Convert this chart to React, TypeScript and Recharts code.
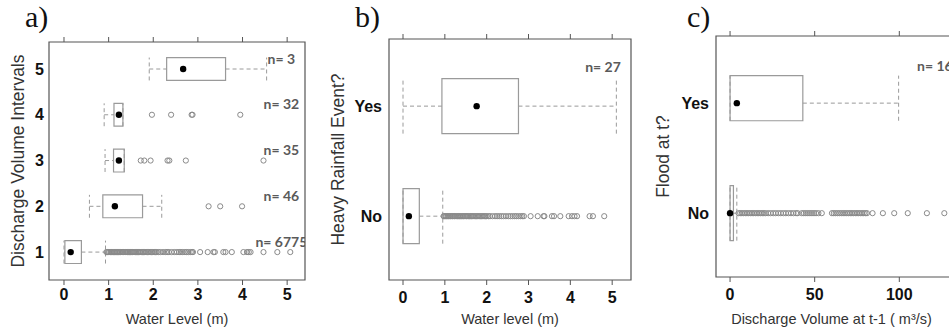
import { ScatterChart, Scatter, XAxis, YAxis, ReferenceArea, ReferenceLine } from 'recharts'

// a) water level per discharge interval
const aGroups = [1, 2, 3, 4, 5]
const aLow = [0.0, 0.57, 0.92, 0.9, 1.91]
const aQ1 = [0.02, 0.87, 1.11, 1.12, 2.3]
const aMedian = [0.15, 1.14, 1.23, 1.23, 2.67]
const aQ3 = [0.39, 1.76, 1.35, 1.32, 3.62]
const aHigh = [0.93, 2.19, 1.35, 1.32, 4.54]
const aCounts = ['n= 6775', 'n= 46', 'n= 35', 'n= 32', 'n= 3']
const aOutliers1 = [
  0.95, 0.97, 0.99, 1.01, 1.04, 1.06, 1.08, 1.11, 1.13, 1.15, 1.18, 1.2, 1.22, 1.25, 1.27, 1.3, 1.32,
  1.34, 1.37, 1.39, 1.42, 1.44, 1.47, 1.49, 1.52, 1.54, 1.57, 1.6, 1.62, 1.65, 1.67, 1.7, 1.73, 1.76,
  1.78, 1.81, 1.84, 1.87, 1.9, 1.93, 1.96, 1.99, 2.02, 2.05, 2.08, 2.12, 2.16, 2.22, 2.28, 2.31, 2.35,
  2.41, 2.47, 2.53, 2.58, 2.62, 2.66, 2.71, 2.75, 2.79, 2.84, 2.87, 2.89, 3.05, 3.22, 3.35, 3.38,
  3.57, 3.62, 3.76, 4.02, 4.1, 4.14, 4.18, 4.47, 4.78, 5.07,
]
const aOutliers2 = [3.24, 3.5, 3.99]
const aOutliers3 = [1.72, 1.8, 1.94, 2.32, 2.36, 2.73, 4.47]
const aOutliers4 = [1.97, 2.4, 2.86, 2.88, 3.95]
const aOutliers5: number[] = []

// b) water level vs heavy rainfall (1 = No, 2 = Yes)
const bGroups = [1, 2]
const bLow = [0.0, 0.0]
const bQ1 = [0.0, 0.93]
const bMedian = [0.14, 1.76]
const bQ3 = [0.39, 2.76]
const bHigh = [0.95, 5.1]
const bCounts = ['', 'n= 27']
const bOutliersNo = [
  0.97, 0.99, 1.02, 1.04, 1.07, 1.09, 1.12, 1.14, 1.17, 1.19, 1.22, 1.24, 1.27, 1.3, 1.32, 1.35, 1.37,
  1.4, 1.43, 1.45, 1.48, 1.51, 1.53, 1.56, 1.59, 1.62, 1.64, 1.67, 1.7, 1.73, 1.76, 1.79, 1.82, 1.85,
  1.88, 1.91, 1.94, 1.97, 2.0, 2.04, 2.08, 2.14, 2.2, 2.25, 2.3, 2.35, 2.4, 2.46, 2.52, 2.57, 2.62,
  2.67, 2.71, 2.76, 2.81, 2.85, 2.89, 3.05, 3.22, 3.36, 3.38, 3.56, 3.61, 3.76, 3.96, 4.04, 4.1, 4.16,
  4.46, 4.54, 4.81,
]
const bOutliersYes: number[] = []

// c) discharge at t-1 vs flood at t (1 = No, 2 = Yes)
const cGroups = [1, 2]
const cLow = [0, 0]
const cQ1 = [0, 0]
const cMedian = [0, 4]
const cQ3 = [2, 43]
const cHigh = [4, 99.6]
const cCounts = ['', 'n= 16']
const cOutliersNo = [
  5, 6, 7, 8, 9, 10, 11, 12, 13, 14, 15, 16, 17, 18, 19, 20, 21, 22.5, 24, 25.5, 27, 28.5, 30, 31.5,
  33, 34.5, 36, 37.5, 39, 40, 42.4, 43.6, 44.8, 46, 47.2, 48.4, 49.6, 50.8, 52.2, 54.2, 60.2, 61.3,
  62.4, 63.5, 64.6, 65.7, 66.8, 67.9, 69, 70, 71, 72, 73, 74, 75, 76, 77, 78, 79, 80, 80.9, 84.2, 90.3,
  97, 105, 116.3, 126.6,
]
const cOutliersYes: number[] = []

const GRID = '#555'
const BOX = '#9a9a9a'
const DOT = '#8a8a8a'

interface PanelProps {
  tag: string
  tagX: number
  left: number
  width: number
  plotTop: number
  plotBottom: number
  yAxisWidth: number
  yTickSize: number
  rightMargin: number
  xDomain: [number, number]
  xTicks: number[]
  xTickMargin: number
  yDomain: [number, number]
  yTicks: number[]
  yNames?: string[]
  xTitle: string
  xTitleShift: number
  yTitle: string
  yTitleX: number
  groups: number[]
  low: number[]
  q1: number[]
  median: number[]
  q3: number[]
  high: number[]
  outliers: number[][]
  counts: string[]
  countX: number
  countLift: number
  boxSpan: [number, number][]
}

const Panel = (p: PanelProps) => {
  const height = 329
  const medians = p.groups.map((g, i) => ({ x: p.median[i], y: g }))
  const outs = p.groups.flatMap((g, i) => p.outliers[i].map(v => ({ x: v, y: g })))
  const labels = p.groups
    .map((g, i) => ({ x: p.countX, y: g + p.countLift, label: p.counts[i] }))
    .filter(d => d.label)
  const tickFont = { fontFamily: 'Liberation Sans, Arial, sans-serif', fontSize: 16, fontWeight: 700, fill: '#111' }
  const titleFont = { fontFamily: 'Liberation Sans, Arial, sans-serif', fontSize: 14.5, fill: '#333' }

  return (
    <div style={{ position: 'absolute', left: p.left, top: 0, width: p.width, height }}>
      <div
        style={{
          position: 'absolute',
          left: p.tagX - p.left,
          top: -1,
          fontFamily: 'Liberation Serif, Times New Roman, serif',
          fontSize: 30,
          lineHeight: '36px',
          color: '#111',
        }}
      >
        {p.tag}
      </div>
      <ScatterChart
        width={p.width}
        height={height}
        margin={{ top: 0, right: p.rightMargin, bottom: 0, left: 0 }}
      >
        <XAxis
          xAxisId="top"
          orientation="top"
          type="number"
          dataKey="x"
          domain={p.xDomain}
          ticks={p.xTicks}
          allowDataOverflow
          height={p.plotTop}
          axisLine={false}
          tickLine={{ stroke: GRID }}
          tickSize={5}
          tick={{ fill: 'transparent' }}
        />
        <XAxis
          type="number"
          dataKey="x"
          domain={p.xDomain}
          ticks={p.xTicks}
          allowDataOverflow
          height={height - p.plotBottom}
          axisLine={false}
          tickLine={{ stroke: GRID }}
          tickSize={5}
          tickMargin={p.xTickMargin}
          tick={tickFont}
          label={{
            value: p.xTitle,
            position: 'insideBottom',
            offset: 5,
            dx: p.xTitleShift,
            style: titleFont,
          }}
        />
        <YAxis
          type="number"
          dataKey="y"
          domain={p.yDomain}
          ticks={p.yTicks}
          allowDataOverflow
          width={p.yAxisWidth}
          axisLine={false}
          tickLine={false}
          tickSize={p.yTickSize}
          tickMargin={2}
          tick={tickFont}
          tickFormatter={(v: number) => (p.yNames ? p.yNames[v - 1] : String(v))}
          label={{
            value: p.yTitle,
            angle: -90,
            position: 'insideLeft',
            offset: p.yTitleX,
            textAnchor: 'middle',
            style: { ...titleFont, fontSize: 17.5, textAnchor: 'middle' },
          }}
        />
        <ReferenceArea
          x1={p.xDomain[0]}
          x2={p.xDomain[1]}
          y1={p.yDomain[0]}
          y2={p.yDomain[1]}
          fill="none"
          stroke={GRID}
          strokeWidth={1.2}
          ifOverflow="visible"
        />
        {p.groups.map((g, i) => {
          const [below, above] = p.boxSpan[i]
          return (
            <ReferenceArea
              key={`box${g}`}
              x1={p.q1[i]}
              x2={p.q3[i]}
              y1={g - below}
              y2={g + above}
              fill="none"
              stroke={BOX}
              strokeWidth={1.2}
              ifOverflow="visible"
            />
          )
        })}
        {p.groups.map((g, i) => (
          <ReferenceLine
            key={`wl${g}`}
            segment={[{ x: p.low[i], y: g }, { x: p.q1[i], y: g }]}
            stroke={BOX}
            strokeDasharray="4 3"
            ifOverflow="visible"
          />
        ))}
        {p.groups.map((g, i) => (
          <ReferenceLine
            key={`wh${g}`}
            segment={[{ x: p.q3[i], y: g }, { x: p.high[i], y: g }]}
            stroke={BOX}
            strokeDasharray="4 3"
            ifOverflow="visible"
          />
        ))}
        {p.groups.map((g, i) => (
          <ReferenceLine
            key={`cl${g}`}
            segment={[{ x: p.low[i], y: g - p.boxSpan[i][0] }, { x: p.low[i], y: g + p.boxSpan[i][1] }]}
            stroke={BOX}
            strokeDasharray="4 3"
            ifOverflow="visible"
          />
        ))}
        {p.groups.map((g, i) => (
          <ReferenceLine
            key={`ch${g}`}
            segment={[{ x: p.high[i], y: g - p.boxSpan[i][0] }, { x: p.high[i], y: g + p.boxSpan[i][1] }]}
            stroke={BOX}
            strokeDasharray="4 3"
            ifOverflow="visible"
          />
        ))}
        <Scatter
          data={outs}
          isAnimationActive={false}
          shape={(s: any) => <circle cx={s.cx} cy={s.cy} r={2.6} fill="none" stroke={DOT} strokeWidth={1} />}
        />
        <Scatter
          data={medians}
          isAnimationActive={false}
          shape={(s: any) => <circle cx={s.cx} cy={s.cy} r={3.2} fill="#000" />}
        />
        <Scatter
          data={labels}
          isAnimationActive={false}
          shape={(s: any) => (
            <text
              x={s.cx}
              y={s.cy}
              textAnchor="middle"
              dominantBaseline="central"
              style={{ fontFamily: 'Lato, Open Sans, sans-serif', fontWeight: 700, fontSize: 14, fill: '#5a5a5a' }}
            >
              {s.payload.label}
            </text>
          )}
        />
      </ScatterChart>
    </div>
  )
}

export default function App() {
  const even: [number, number] = [0.25, 0.25]
  return (
    <div
      style={{
        position: 'fixed',
        left: 0,
        top: 0,
        width: 949,
        height: 329,
        overflow: 'hidden',
        background: '#fff',
      }}
    >
      <Panel
        tag="a)"
        tagX={25}
        left={0}
        width={320}
        plotTop={42}
        plotBottom={280}
        yAxisWidth={49}
        yTickSize={3}
        rightMargin={15}
        xDomain={[-0.336, 5.4]}
        xTicks={[0, 1, 2, 3, 4, 5]}
        xTickMargin={4}
        yDomain={[0.39, 5.59]}
        yTicks={[1, 2, 3, 4, 5]}
        xTitle="Water Level (m)"
        xTitleShift={0}
        yTitle="Discharge Volume Intervals"
        yTitleX={18}
        groups={aGroups}
        low={aLow}
        q1={aQ1}
        median={aMedian}
        q3={aQ3}
        high={aHigh}
        outliers={[aOutliers1, aOutliers2, aOutliers3, aOutliers4, aOutliers5]}
        counts={aCounts}
        countX={4.87}
        countLift={0.24}
        boxSpan={[even, even, even, even, even]}
      />
      <Panel
        tag="b)"
        tagX={355}
        left={320}
        width={330}
        plotTop={39}
        plotBottom={280}
        yAxisWidth={69}
        yTickSize={5}
        rightMargin={19}
        xDomain={[-0.335, 5.45]}
        xTicks={[0, 1, 2, 3, 4, 5]}
        xTickMargin={7}
        yDomain={[0.42, 2.61]}
        yTicks={[1, 2]}
        yNames={['No', 'Yes']}
        xTitle="Water level (m)"
        xTitleShift={0}
        yTitle="Heavy Rainfall Event?"
        yTitleX={18}
        groups={bGroups}
        low={bLow}
        q1={bQ1}
        median={bMedian}
        q3={bQ3}
        high={bHigh}
        outliers={[bOutliersNo, bOutliersYes]}
        counts={bCounts}
        countX={4.78}
        countLift={0.36}
        boxSpan={[even, even]}
      />
      <Panel
        tag="c)"
        tagX={687}
        left={650}
        width={330}
        plotTop={36}
        plotBottom={277}
        yAxisWidth={66}
        yTickSize={5}
        rightMargin={13}
        xDomain={[-8.3, 140]}
        xTicks={[0, 50, 100]}
        xTickMargin={7}
        yDomain={[0.42, 2.61]}
        yTicks={[1, 2]}
        yNames={['No', 'Yes']}
        xTitle="Discharge Volume at t-1 ( m³/s)"
        xTitleShift={-10}
        yTitle="Flood at t?"
        yTitleX={13}
        groups={cGroups}
        low={cLow}
        q1={cQ1}
        median={cMedian}
        q3={cQ3}
        high={cHigh}
        outliers={[cOutliersNo, cOutliersYes]}
        counts={cCounts}
        countX={121}
        countLift={0.34}
        boxSpan={[even, [0.16, 0.25]]}
      />
    </div>
  )
}
